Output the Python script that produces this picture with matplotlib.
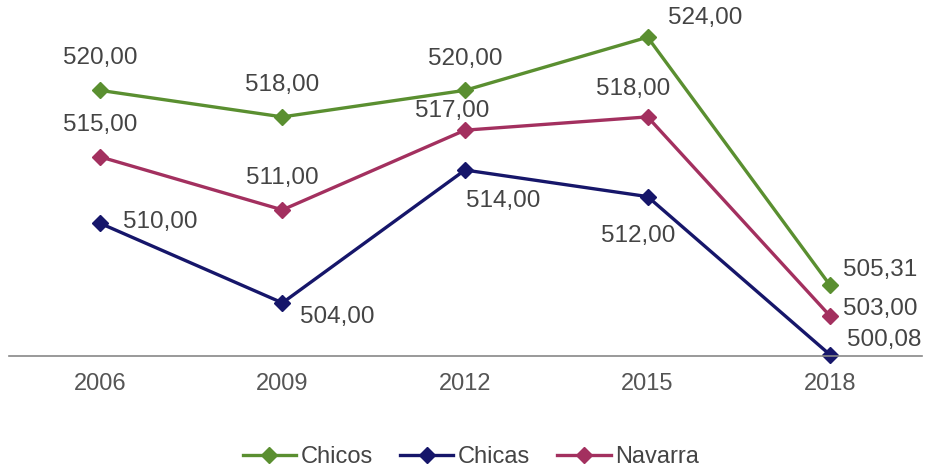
import matplotlib.pyplot as plt

years = ['2006', '2009', '2012', '2015', '2018']
chicos = [520.00, 518.00, 520.00, 524.00, 505.31]
chicas = [510.00, 504.00, 514.00, 512.00, 500.08]
navarra = [515.00, 511.00, 517.00, 518.00, 503.00]

# label offsets in pixels (dx, dy)
off_chicos = [(0, 32), (0, 32), (0, 31), (58, 19), (50, 15)]
off_chicas = [(60, 1), (55, -14), (38, -31), (-9, -39), (54, 15)]
off_navarra = [(0, 32), (0, 32), (-13, 19), (-14, 28), (50, 7)]

plt.rcParams['font.family'] = ['Liberation Sans', 'DejaVu Sans']

fig = plt.figure(figsize=(9.25, 4.73), dpi=100)
ax = fig.add_axes([8.5/925, 117/473, 913/925, 356/473])

x = list(range(len(years)))
series = [('Chicos', chicos, '#5a8f30', off_chicos),
          ('Chicas', chicas, '#16166a', off_chicas),
          ('Navarra', navarra, '#a3305f', off_navarra)]

for name, vals, col, offs in series:
    ax.plot(x, vals, color=col, lw=2.4, marker='D', ms=8, label=name,
            clip_on=False)
    for xi, v, (dx, dy) in zip(x, vals, offs):
        ax.annotate(f'{v:.2f}'.replace('.', ','), (xi, v), xytext=(dx*0.72, dy*0.72),
                    textcoords='offset points', ha='center', va='center',
                    fontsize=17.5, color='#444444')

ax.set_xlim(-0.5, 4.5)
ax.set_ylim(500, 526.8)
ax.set_xticks(x)
ax.set_xticklabels(years)
ax.set_yticks([])
ax.tick_params(axis='x', length=0, pad=12, labelsize=17, labelcolor='#555555')
for s in ['top', 'right', 'left']:
    ax.spines[s].set_visible(False)
ax.spines['bottom'].set_color('#888888')
ax.spines['bottom'].set_linewidth(1.2)

fig.legend(loc='center', bbox_to_anchor=(471/925, 1 - 457/473), ncol=3,
           frameon=False, fontsize=17, handlelength=2.25, handletextpad=0.2,
           columnspacing=1.15, labelcolor='#444444')

fig.savefig('out.png', dpi=100)
